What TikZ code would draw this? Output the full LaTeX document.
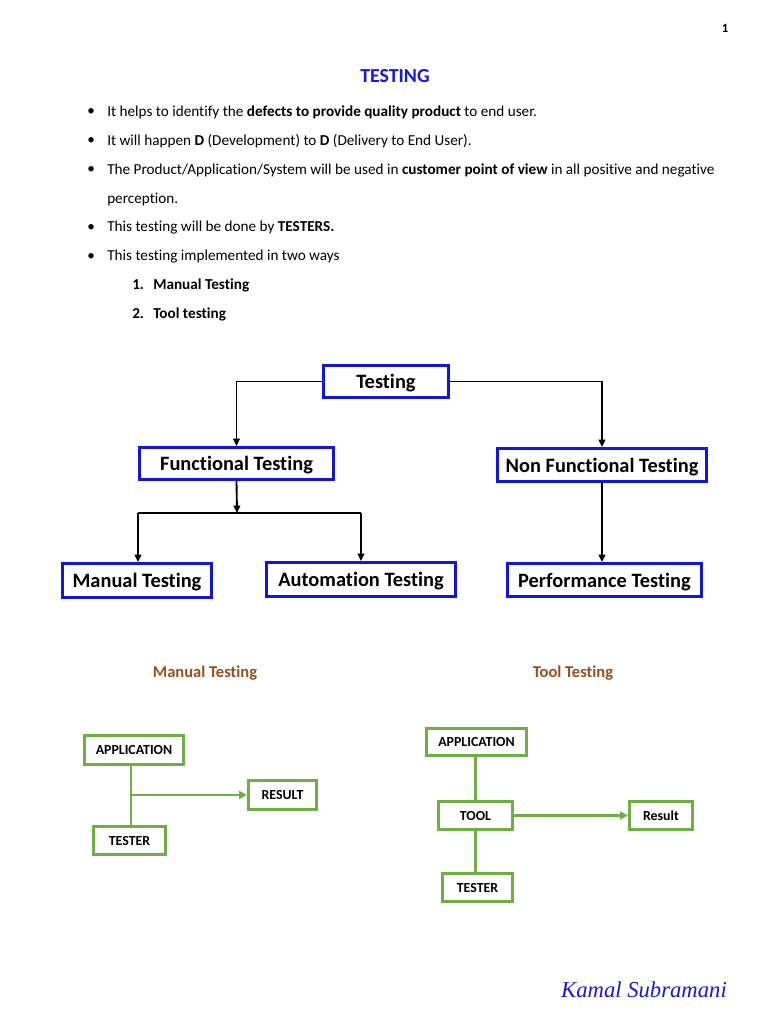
\documentclass[tikz,border=0pt]{standalone}
\usepackage{fontspec}
\setmainfont{Carlito}[Ligatures=NoCommon]
\newfontfamily\sigfont{Liberation Serif}
\usetikzlibrary{arrows.meta}
\definecolor{tblue}{RGB}{25,25,215}
\definecolor{bblue}{RGB}{20,20,225}
\definecolor{ogreen}{RGB}{112,173,71}
\definecolor{brownh}{RGB}{150,80,30}
\begin{document}
\begin{tikzpicture}[x=0.75pt,y=-0.75pt,
  body/.style={anchor=west,inner sep=0pt,font=\fontsize{11.4}{13}\selectfont},
  bodyb/.style={anchor=west,inner sep=0pt,font=\fontsize{11.4}{13}\selectfont\bfseries},
  bluebox/.style={draw=bblue,line width=2.2pt,inner sep=0pt,text depth=0pt,font=\fontsize{15.3}{18}\selectfont\bfseries},
  greenbox/.style={draw=ogreen,line width=2.2pt,inner sep=0pt,font=\fontsize{10.4}{12}\selectfont\bfseries},
  dims/.style 2 args={minimum width=#1*0.75pt,minimum height=#2*0.75pt},
  blk/.style={draw=black,line width=1.4pt,-{Triangle[length=5.5pt,width=5pt]}},
  blkline/.style={draw=black,line width=1.4pt},
  grn/.style={draw=ogreen,line width=2.2pt},
  grnarr/.style={draw=ogreen,line width=2.2pt,-{Triangle[length=6pt,width=6pt]}},
  head/.style={inner sep=0pt,font=\fontsize{12.4}{14}\selectfont\bfseries,text=brownh}]
\useasboundingbox[fill=white] (0,0) rectangle (768,1024);
% page number and title
\node[inner sep=0pt,font=\fontsize{9.5}{11}\selectfont\bfseries] (pg) at (725,28) {1};
\node[inner sep=0pt,font=\fontsize{14.9}{17}\selectfont\bfseries,text=tblue] (title) at (395,76) {TESTING};
% bullets
\foreach \yy/\nm in {112/b1,141/b2,170/b3,228/b4,257/b5}{
  \node[body] (\nm) at (87,\yy) {\textbullet};
}
\node[body] (t1) at (107,112) {It helps to identify the \textbf{defects to provide quality product} to end user.};
\node[body] (t2) at (107,141) {It will happen \textbf{D} (Development) to \textbf{D} (Delivery to End User).};
\node[body] (t3) at (107,170) {The Product/Application/System will be used in \textbf{customer point of view} in all positive and negative};
\node[body] (t3b) at (107,199) {perception.};
\node[body] (t4) at (107,228) {This testing will be done by \textbf{TESTERS.}};
\node[body] (t5) at (107,257) {This testing implemented in two ways};
\node[bodyb] (n1) at (132,285) {1.};
\node[bodyb] (n1t) at (153,285) {Manual Testing};
\node[bodyb] (n2) at (132,314) {2.};
\node[bodyb] (n2t) at (153,314) {Tool testing};
% hierarchy
\node[bluebox,dims={125}{32}] (testing) at (386,381.5) {Testing};
\node[bluebox,dims={194}{32}] (func) at (236.5,463.5) {Functional Testing};
\node[bluebox,dims={209}{33}] (nonfunc) at (602,465) {Non Functional Testing};
\node[bluebox,dims={149}{34}] (manual) at (137,580.5) {Manual Testing};
\node[bluebox,dims={189}{34}] (auto) at (361,579.5) {Automation Testing};
\node[bluebox,dims={194}{33}] (perf) at (604.5,580) {Performance Testing};
\coordinate (split) at (237,513);
\coordinate (sl) at (138,513);
\coordinate (sr) at (361,513);
\draw[blk] (testing.west) -| (func.north);
\draw[blk] (testing.east) -| (nonfunc.north);
\draw[blk] (func.south) -- (split);
\draw[blkline] (sl) -- (sr);
\draw[blk] (sl) -- (sl |- manual.north);
\draw[blk] (sr) -- (sr |- auto.north);
\draw[blk] (nonfunc.south) -- (nonfunc.south |- perf.north);
% lower headings
\node[head] (mh) at (205,673) {Manual Testing};
\node[head] (th) at (573,673) {Tool Testing};
% manual testing diagram
\node[greenbox,dims={99}{29}] (mapp) at (134,750) {APPLICATION};
\node[greenbox,dims={68}{29}] (mres) at (282.5,795) {RESULT};
\node[greenbox,dims={72}{28}] (mtes) at (129.5,840.5) {TESTER};
\coordinate (mj) at (131,795);
\draw[grn] (mapp.south -| mj) -- (mtes.north -| mj);
\draw[grnarr] (mj) -- (mres.west);
% tool testing diagram
\node[greenbox,dims={100}{27}] (tapp) at (476.5,742) {APPLICATION};
\node[greenbox,dims={74}{28}] (ttool) at (475.5,815.5) {TOOL};
\node[greenbox,dims={63}{28}] (tres) at (661,815.5) {Result};
\node[greenbox,dims={70}{28}] (ttes) at (477.5,887.5) {TESTER};
\draw[grn] (tapp.south -| ttool.north) -- (ttool.north);
\draw[grn] (ttool.south) -- (ttool.south |- ttes.north);
\draw[grnarr] (ttool.east) -- (tres.west);
% signature
\node[inner sep=0pt,font=\sigfont\fontsize{17}{20}\selectfont\itshape,text=tblue] (sig) at (644,990) {Kamal Subramani};
\end{tikzpicture}
\end{document}
